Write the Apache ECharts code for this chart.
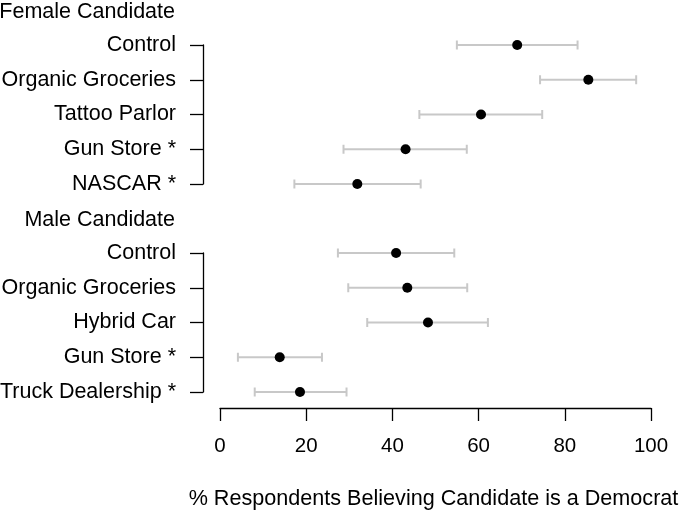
<!DOCTYPE html>
<html><head><meta charset="utf-8">
<script src="https://cdn.jsdelivr.net/npm/echarts@6/dist/echarts.min.js"></script>
<style>html,body{margin:0;padding:0;background:#fff}#c{width:685px;height:512px}</style>
</head><body><div id="c"></div>
<script>
const femaleLabels = ['Control', 'Organic Groceries', 'Tattoo Parlor', 'Gun Store *', 'NASCAR *'];
const femaleMean = [68.9, 85.4, 60.5, 43.0, 31.8];
const femaleLow  = [54.9, 74.2, 46.2, 28.6, 17.2];
const femaleHigh = [82.9, 96.5, 74.7, 57.2, 46.5];
const maleLabels = ['Control', 'Organic Groceries', 'Hybrid Car', 'Gun Store *', 'Truck Dealership *'];
const maleMean = [40.8, 43.4, 48.2, 13.8, 18.5];
const maleLow  = [27.3, 29.7, 34.1, 4.1, 8.0];
const maleHigh = [54.3, 57.3, 62.1, 23.6, 29.3];
const groupTitles = ['Female Candidate', 'Male Candidate'];
const xTicks = [0, 20, 40, 60, 80, 100];
const xTitle = '% Respondents Believing Candidate is a Democrat';

const FONT = 'Liberation Sans';
const FS = 21.5;

function errRender(params, api) {
  const lo = api.coord([api.value(0), api.value(2)]);
  const hi = api.coord([api.value(1), api.value(2)]);
  const cap = 4.5;
  const st = {stroke: '#c8c8c8', lineWidth: 2};
  return {type: 'group', children: [
    {type: 'line', shape: {x1: lo[0], y1: lo[1], x2: hi[0], y2: hi[1]}, style: st},
    {type: 'line', shape: {x1: lo[0], y1: lo[1]-cap, x2: lo[0], y2: lo[1]+cap}, style: st},
    {type: 'line', shape: {x1: hi[0], y1: hi[1]-cap, x2: hi[0], y2: hi[1]+cap}, style: st}
  ]};
}

function yAx(labels, gi) {
  return {
    type: 'category', gridIndex: gi, data: labels, inverse: true, boundaryGap: false,
    axisLine: {show: true, onZero: false, lineStyle: {color: '#000', width: 1.3}},
    axisTick: {show: true, length: 13, lineStyle: {color: '#000', width: 1.3}},
    axisLabel: {margin: 27, color: '#000', fontSize: FS, fontFamily: FONT},
    splitLine: {show: false}
  };
}
function xHidden(gi) {
  return {type: 'value', gridIndex: gi, min: -4, max: 104, show: false, splitLine: {show: false}};
}

const chart = echarts.init(document.getElementById('c'), null, {renderer: 'canvas'});
chart.setOption({
  animation: false,
  backgroundColor: '#fff',
  title: [
    {text: groupTitles[0], right: 510, top: 1, padding: 0, textStyle: {color: '#000', fontSize: FS, fontWeight: 'normal', fontFamily: FONT}},
    {text: groupTitles[1], right: 510, top: 209, padding: 0, textStyle: {color: '#000', fontSize: FS, fontWeight: 'normal', fontFamily: FONT}}
  ],
  grid: [
    {left: 203, right: 16.5, top: 45, height: 139, outerBoundsMode: 'none', containLabel: false},
    {left: 203, right: 16.5, top: 253, height: 139, outerBoundsMode: 'none', containLabel: false},
    {left: 220, right: 34, top: 392, height: 16, outerBoundsMode: 'none', containLabel: false}
  ],
  xAxis: [
    xHidden(0), xHidden(1),
    {type: 'value', gridIndex: 2, min: 0, max: 100, interval: 20, position: 'bottom',
     axisLine: {show: true, onZero: false, lineStyle: {color: '#000', width: 1.3}},
     axisTick: {show: true, length: 13, lineStyle: {color: '#000', width: 1.3}},
     axisLabel: {margin: 28, color: '#000', fontSize: 20.5, fontFamily: FONT, formatter: v => xTicks.includes(v) ? String(v) : ''},
     splitLine: {show: false},
     name: xTitle, nameLocation: 'middle', nameGap: 80,
     nameTextStyle: {color: '#000', fontSize: 21.6, fontFamily: FONT, padding: [0, 4, 0, 0]}}
  ],
  yAxis: [
    yAx(femaleLabels, 0), yAx(maleLabels, 1),
    {type: 'value', gridIndex: 2, show: false, min: 0, max: 1}
  ],
  series: [
    {type: 'custom', xAxisIndex: 0, yAxisIndex: 0, renderItem: errRender, clip: false,
     data: femaleLabels.map((l, i) => [femaleLow[i], femaleHigh[i], i])},
    {type: 'custom', xAxisIndex: 1, yAxisIndex: 1, renderItem: errRender, clip: false,
     data: maleLabels.map((l, i) => [maleLow[i], maleHigh[i], i])},
    {type: 'scatter', xAxisIndex: 0, yAxisIndex: 0, symbolSize: 10, itemStyle: {color: '#000', opacity: 1},
     data: femaleMean.map((v, i) => [v, i])},
    {type: 'scatter', xAxisIndex: 1, yAxisIndex: 1, symbolSize: 10, itemStyle: {color: '#000', opacity: 1},
     data: maleMean.map((v, i) => [v, i])}
  ]
});
</script></body></html>
